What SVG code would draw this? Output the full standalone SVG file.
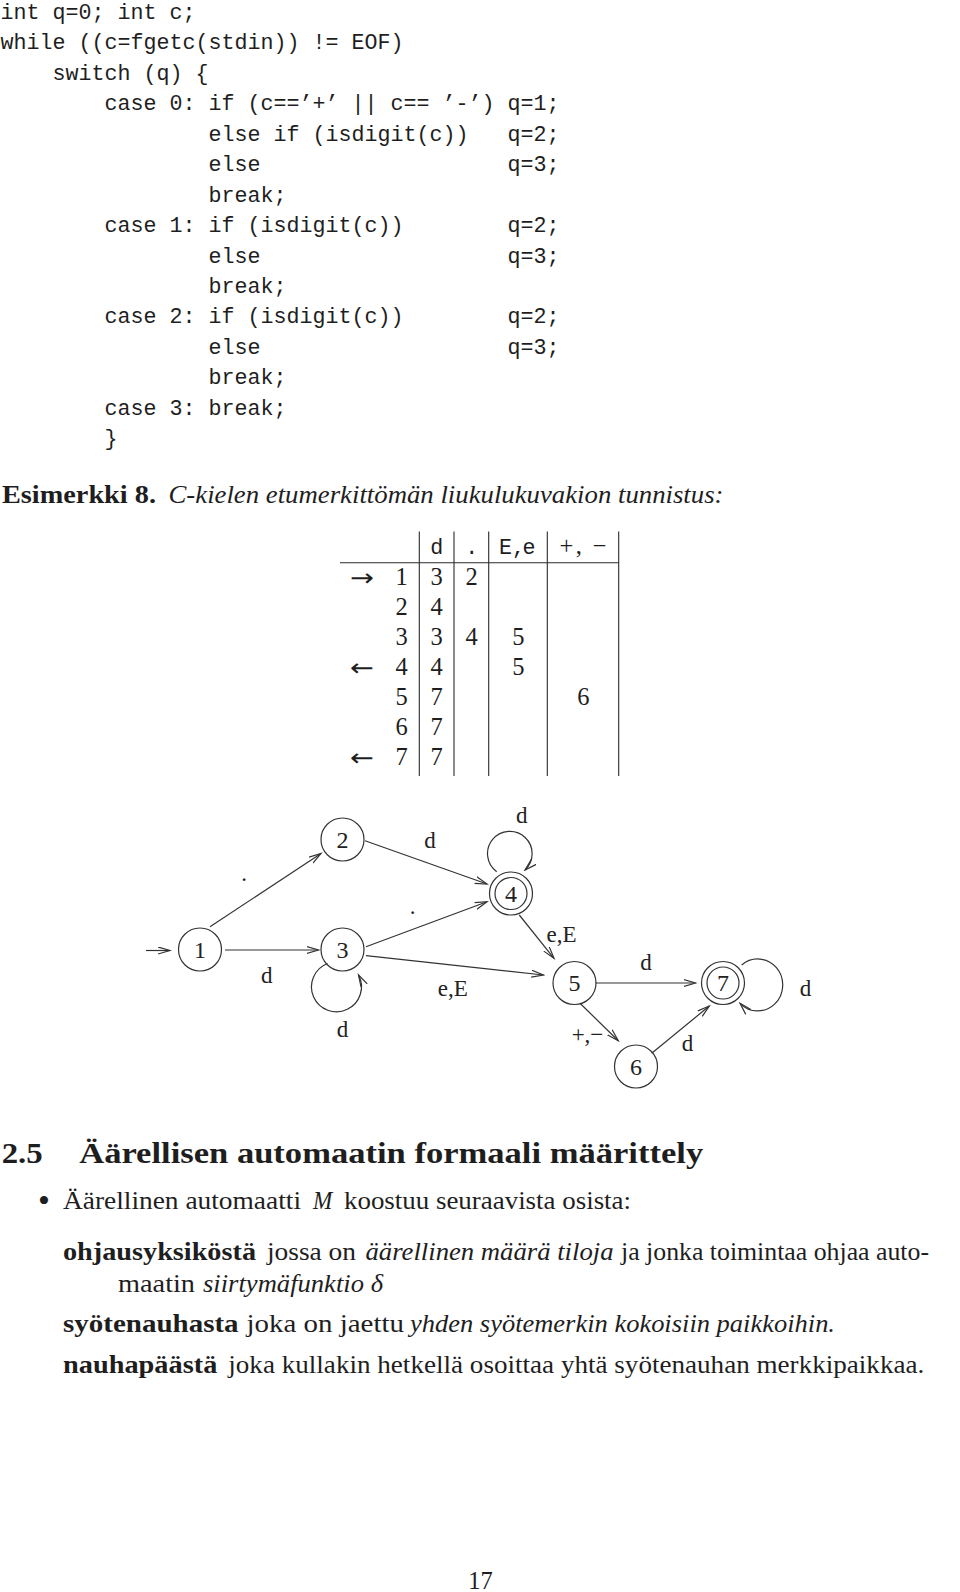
<svg xmlns="http://www.w3.org/2000/svg" width="960" height="1592" viewBox="0 0 960 1592">
<style>
.code{font-family:"Liberation Mono","Courier New",monospace;font-size:21.67px;fill:#1e1e1e}
.tt{font-family:"Liberation Mono","Courier New",monospace;font-size:21.67px;fill:#1e1e1e}
.rm{font-family:"Liberation Serif","Times New Roman",serif;font-size:24.5px;fill:#1e1e1e}
.bf{font-family:"Liberation Serif","Times New Roman",serif;font-size:24.5px;font-weight:bold;fill:#1e1e1e}
.it{font-family:"Liberation Serif","Times New Roman",serif;font-size:24.5px;font-style:italic;fill:#1e1e1e}
.h{font-family:"Liberation Serif","Times New Roman",serif;font-size:29.5px;font-weight:bold;fill:#1e1e1e}
.arr{font-family:"DejaVu Sans",sans-serif;font-size:24px;fill:#1e1e1e}
.tl{stroke:#2a2a2a;stroke-width:1.1;fill:none}
.mid{text-anchor:middle}
.node circle{fill:none;stroke:#333;stroke-width:1.2}
.node text,.lbl{font-family:"Liberation Serif","Times New Roman",serif;font-size:23px;fill:#222;text-anchor:middle}
.node text{font-size:24px}
.edge{fill:none;stroke:#333;stroke-width:1.2;marker-end:url(#ah)}
</style>
<defs>
<marker id="ah" markerWidth="14" markerHeight="10" refX="12" refY="4" orient="auto" markerUnits="userSpaceOnUse">
<path d="M0,0.5 L12,4 L0,7.5" fill="none" stroke="#333" stroke-width="1.2"/>
</marker>
</defs>
<rect width="960" height="1592" fill="#fff"/>

<g id="code">
<text class="code" x="0.5" y="19">int q=0; int c;</text>
<text class="code" x="0.5" y="49.4">while ((c=fgetc(stdin)) != EOF)</text>
<text class="code" x="52.5" y="79.9">switch (q) {</text>
<text class="code" x="104.5" y="110.3">case 0: if (c==’+’ || c== ’-’)</text>
<text class="code" x="507.5" y="110.3">q=1;</text>
<text class="code" x="208.5" y="140.8">else if (isdigit(c))</text>
<text class="code" x="507.5" y="140.8">q=2;</text>
<text class="code" x="208.5" y="171.2">else</text>
<text class="code" x="507.5" y="171.2">q=3;</text>
<text class="code" x="208.5" y="201.6">break;</text>
<text class="code" x="104.5" y="232.1">case 1: if (isdigit(c))</text>
<text class="code" x="507.5" y="232.1">q=2;</text>
<text class="code" x="208.5" y="262.5">else</text>
<text class="code" x="507.5" y="262.5">q=3;</text>
<text class="code" x="208.5" y="293">break;</text>
<text class="code" x="104.5" y="323.4">case 2: if (isdigit(c))</text>
<text class="code" x="507.5" y="323.4">q=2;</text>
<text class="code" x="208.5" y="353.8">else</text>
<text class="code" x="507.5" y="353.8">q=3;</text>
<text class="code" x="208.5" y="384.3">break;</text>
<text class="code" x="104.5" y="414.7">case 3: break;</text>
<text class="code" x="104.5" y="445.2">}</text>
</g>

<g id="example-heading">
<text class="bf" x="2" y="503" textLength="154" lengthAdjust="spacingAndGlyphs">Esimerkki 8.</text>
<text class="it" x="168.5" y="503" textLength="555" lengthAdjust="spacingAndGlyphs">C-kielen etumerkittömän liukulukuvakion tunnistus:</text>
</g>

<g id="table">
<line class="tl" x1="340" y1="562.7" x2="618.7" y2="562.7"/>
<line class="tl" x1="419.3" y1="531.5" x2="419.3" y2="776"/>
<line class="tl" x1="454" y1="531.5" x2="454" y2="776"/>
<line class="tl" x1="488.7" y1="531.5" x2="488.7" y2="776"/>
<line class="tl" x1="547.3" y1="531.5" x2="547.3" y2="776"/>
<line class="tl" x1="618.7" y1="531.5" x2="618.7" y2="776"/>
<text class="tt mid" x="436.7" y="553.5">d</text>
<text class="tt mid" x="471.7" y="553.5">.</text>
<text class="tt" x="499" y="553.5">E,</text>
<text class="tt" x="522.5" y="553.5">e</text>
<text class="rm" x="559.5" y="554" textLength="47" lengthAdjust="spacing">+, −</text>

<text class="arr" x="350" y="585.5" textLength="24" lengthAdjust="spacingAndGlyphs">→</text>
<text class="rm mid" x="401.7" y="585">1</text>
<text class="rm mid" x="436.7" y="585">3</text>
<text class="rm mid" x="471.7" y="585">2</text>

<text class="rm mid" x="401.7" y="615">2</text>
<text class="rm mid" x="436.7" y="615">4</text>

<text class="rm mid" x="401.7" y="645">3</text>
<text class="rm mid" x="436.7" y="645">3</text>
<text class="rm mid" x="471.7" y="645">4</text>
<text class="rm mid" x="518.3" y="645">5</text>

<text class="arr" x="350" y="675.5" textLength="24" lengthAdjust="spacingAndGlyphs">←</text>
<text class="rm mid" x="401.7" y="675">4</text>
<text class="rm mid" x="436.7" y="675">4</text>
<text class="rm mid" x="518.3" y="675">5</text>

<text class="rm mid" x="401.7" y="705">5</text>
<text class="rm mid" x="436.7" y="705">7</text>
<text class="rm mid" x="583.3" y="705">6</text>

<text class="rm mid" x="401.7" y="735">6</text>
<text class="rm mid" x="436.7" y="735">7</text>

<text class="arr" x="350" y="765.5" textLength="24" lengthAdjust="spacingAndGlyphs">←</text>
<text class="rm mid" x="401.7" y="765">7</text>
<text class="rm mid" x="436.7" y="765">7</text>
</g>

<g id="connectors">
<path class="edge" d="M146,950.5 L170,950.5"/>
<path class="edge" d="M210,926.7 L321,853.5"/>
<path class="edge" d="M225,950 L318.5,950"/>
<path class="edge" d="M365,840.7 L487,884"/>
<path class="edge" d="M366,946.7 L487,901.7"/>
<path class="edge" d="M366,955.7 L543.5,975"/>
<path class="edge" d="M519.3,915 L554,958.3"/>
<path class="edge" d="M595.5,983 L695.5,983"/>
<path class="edge" d="M580,1003.3 L618.3,1040.7"/>
<path class="edge" d="M651.7,1053.3 L709.3,1006"/>
<path class="edge" d="M327.5,963.5 A25,25 0 1 0 358.5,975"/>
<path class="edge" d="M496.7,871.7 A22.3,22.3 0 1 1 525,870"/>
<path class="edge" d="M741.7,965 A25,26 0 1 1 740,1003.3"/>
<text class="lbl" x="244" y="881">.</text>
<text class="lbl" x="266.8" y="983">d</text>
<text class="lbl" x="430" y="847.5">d</text>
<text class="lbl" x="521.7" y="823">d</text>
<text class="lbl" x="412.5" y="914">.</text>
<text class="lbl" x="452.7" y="996">e,E</text>
<text class="lbl" x="561.5" y="942">e,E</text>
<text class="lbl" x="646" y="969.5">d</text>
<text class="lbl" x="805.5" y="996">d</text>
<text class="lbl" x="342.5" y="1037">d</text>
<text class="lbl" x="587.5" y="1042">+,−</text>
<text class="lbl" x="687.5" y="1050.5">d</text>
</g>

<g id="n1" class="node"><circle cx="200" cy="949.5" r="21.5"/><text x="200" y="957.5">1</text></g>
<g id="n2" class="node"><circle cx="342.5" cy="839.5" r="21.5"/><text x="342.5" y="847.5">2</text></g>
<g id="n3" class="node"><circle cx="342.5" cy="949.5" r="21.5"/><text x="342.5" y="957.5">3</text></g>
<g id="n4" class="node"><circle cx="511" cy="893.5" r="21.5"/><circle cx="511" cy="893.5" r="16"/><text x="511" y="901.5">4</text></g>
<g id="n5" class="node"><circle cx="574.5" cy="983" r="21.5"/><text x="574.5" y="991">5</text></g>
<g id="n6" class="node"><circle cx="636" cy="1066.5" r="21.5"/><text x="636" y="1074.5">6</text></g>
<g id="n7" class="node"><circle cx="723" cy="983" r="21.5"/><circle cx="723" cy="983" r="16"/><text x="723" y="991">7</text></g>

<g id="section">
<text class="h" x="1.7" y="1163" textLength="41" lengthAdjust="spacingAndGlyphs">2.5</text>
<text class="h" x="79.2" y="1163" textLength="624" lengthAdjust="spacingAndGlyphs">Äärellisen automaatin formaali määrittely</text>
<text class="rm mid" x="44" y="1212" style="font-size:34px">•</text>
<text class="rm" x="63" y="1209" textLength="238" lengthAdjust="spacingAndGlyphs">Äärellinen automaatti</text>
<text class="it" x="313" y="1209" textLength="19.3" lengthAdjust="spacingAndGlyphs">M</text>
<text class="rm" x="344" y="1209" textLength="287" lengthAdjust="spacingAndGlyphs">koostuu seuraavista osista:</text>

<text class="bf" x="63" y="1259.5" textLength="193" lengthAdjust="spacingAndGlyphs">ohjausyksiköstä</text>
<text class="rm" x="267" y="1259.5" textLength="89" lengthAdjust="spacingAndGlyphs">jossa on</text>
<text class="it" x="365.5" y="1259.5" textLength="248" lengthAdjust="spacingAndGlyphs">äärellinen määrä tiloja</text>
<text class="rm" x="621" y="1259.5" textLength="308" lengthAdjust="spacingAndGlyphs">ja jonka toimintaa ohjaa auto-</text>
<text class="rm" x="118" y="1291.5" textLength="77" lengthAdjust="spacingAndGlyphs">maatin</text>
<text class="it" x="203" y="1291.5" textLength="180" lengthAdjust="spacingAndGlyphs">siirtymäfunktio δ</text>

<text class="bf" x="63" y="1332" textLength="175.6" lengthAdjust="spacingAndGlyphs">syötenauhasta</text>
<text class="rm" x="246.6" y="1332" textLength="157.3" lengthAdjust="spacingAndGlyphs">joka on jaettu</text>
<text class="it" x="410" y="1332" textLength="425" lengthAdjust="spacingAndGlyphs">yhden syötemerkin kokoisiin paikkoihin.</text>

<text class="bf" x="63" y="1372.5" textLength="154.3" lengthAdjust="spacingAndGlyphs">nauhapäästä</text>
<text class="rm" x="228.3" y="1372.5" textLength="696" lengthAdjust="spacingAndGlyphs">joka kullakin hetkellä osoittaa yhtä syötenauhan merkkipaikkaa.</text>

<text class="rm mid" x="480.5" y="1589">17</text>
</g>
</svg>
